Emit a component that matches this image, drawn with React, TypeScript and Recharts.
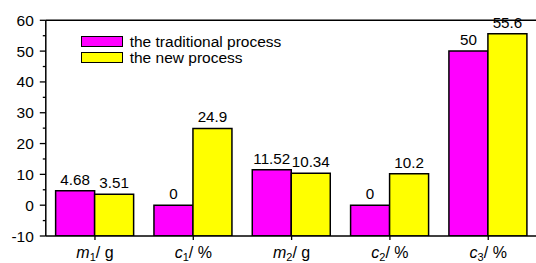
import React from 'react';
import { BarChart, Bar, XAxis, YAxis, ReferenceLine, LabelList } from 'recharts';

const categories = ['m1', 'c1', 'm2', 'c2', 'c3'];
const catLetter = ['m', 'c', 'm', 'c', 'c'];
const catSub = ['1', '1', '2', '2', '3'];
const catUnit = ['/ g', '/ %', '/ g', '/ %', '/ %'];
const traditional = [4.68, 0, 11.52, 0, 50];
const newProcess = [3.51, 24.9, 10.34, 10.2, 55.6];
const yTicks = [-10, -5, 0, 5, 10, 15, 20, 25, 30, 35, 40, 45, 50, 55, 60];

const BASE = -10;
const FONT = '"Liberation Sans", Arial, sans-serif';

const data = categories.map((c, i) => ({
  name: c,
  trad: traditional[i],
  neu: newProcess[i],
  tradRange: [BASE, traditional[i]],
  neuRange: [BASE, newProcess[i]],
}));

const YTick = (props: any) => {
  const { x, y, payload } = props;
  const major = payload.value % 10 === 0;
  return (
    <g>
      <line x1={x - (major ? 6 : 3)} x2={x} y1={y} y2={y} stroke="#000" strokeWidth={1.3} />
      {major && (
        <text x={x - 12} y={y} dy={5.5} textAnchor="end" fontSize={15.5} fontFamily={FONT} fill="#000">
          {payload.value}
        </text>
      )}
    </g>
  );
};

const XTick = (props: any) => {
  const { x, y, payload } = props;
  const i = categories.indexOf(payload.value);
  return (
    <text x={x} y={y} dy={17.5} textAnchor="middle" fontSize={16} fontFamily={FONT} fill="#000">
      <tspan fontStyle="italic">{catLetter[i]}</tspan>
      <tspan fontSize={11} dy={3.5}>{catSub[i]}</tspan>
      <tspan dy={-3.5}>{catUnit[i]}</tspan>
    </text>
  );
};

const ValueLabel = (props: any) => {
  const { x, y, width, value } = props;
  return (
    <text x={x + width / 2} y={y - 6} textAnchor="middle" fontSize={15.2} fontFamily={FONT} fill="#000">
      {value}
    </text>
  );
};

const legendItems = [
  { label: 'the traditional process', color: '#FF00FF' },
  { label: 'the new process', color: '#FFFF00' },
];

export default function App() {
  return (
    <div style={{ position: 'absolute', left: 0, top: 0, width: 536, height: 263, overflow: 'hidden', background: '#fff' }}>
      <BarChart
        width={540}
        height={263}
        data={data}
        margin={{ top: 20.3, right: 2.6, left: 0, bottom: 0 }}
        barCategoryGap="10%"
        barGap={0}
      >
        <XAxis
          dataKey="name"
          height={27}
          interval={0}
          tickSize={4}
          tickMargin={0}
          tick={<XTick />}
          axisLine={{ stroke: '#000', strokeWidth: 1.5 }}
          tickLine={{ stroke: '#000', strokeWidth: 1.3 }}
        />
        <YAxis
          width={45.8}
          domain={[-10, 60]}
          ticks={yTicks}
          interval={0}
          tickSize={0}
          tickMargin={0}
          tickLine={false}
          tick={<YTick />}
          axisLine={{ stroke: '#000', strokeWidth: 1.5 }}
          allowDataOverflow
        />
        <ReferenceLine y={60} stroke="#000" strokeWidth={1.5} />
        <Bar dataKey="tradRange" fill="#FF00FF" stroke="#000" strokeWidth={1.5} isAnimationActive={false}>
          <LabelList dataKey="trad" content={<ValueLabel />} />
        </Bar>
        <Bar dataKey="neuRange" fill="#FFFF00" stroke="#000" strokeWidth={1.5} isAnimationActive={false}>
          <LabelList dataKey="neu" content={<ValueLabel />} />
        </Bar>
      </BarChart>
      <div style={{ position: 'absolute', left: 80.7, top: 36, fontFamily: FONT, fontSize: 15.5, color: '#000' }}>
        {legendItems.map((it) => (
          <div key={it.label} style={{ display: 'flex', alignItems: 'center', height: 21, marginTop: -5 }}>
            <span
              style={{
                display: 'inline-block',
                width: 40,
                height: 9,
                background: it.color,
                border: '1.5px solid #000',
                marginRight: 7,
              }}
            />
            <span>{it.label}</span>
          </div>
        ))}
      </div>
    </div>
  );
}
